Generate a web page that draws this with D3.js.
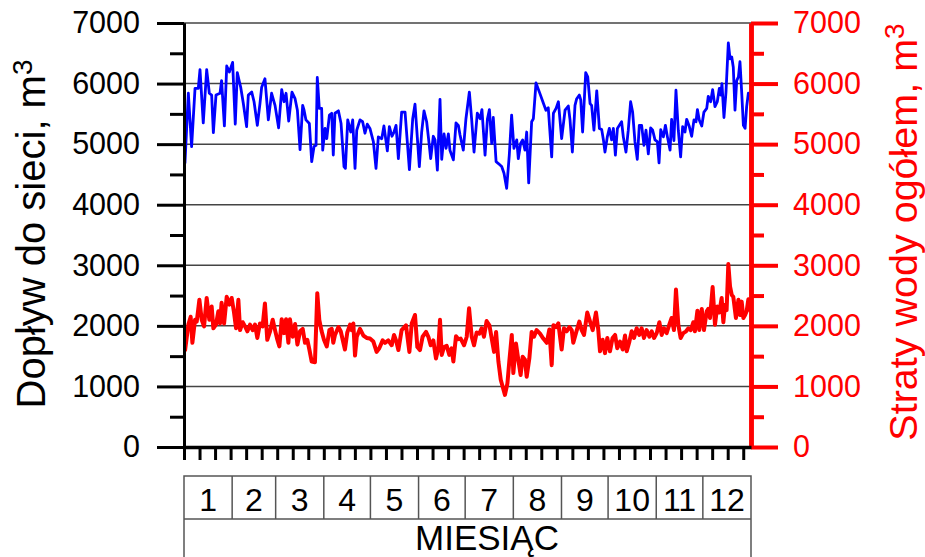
<!DOCTYPE html>
<html>
<head>
<meta charset="utf-8">
<script src="https://cdn.jsdelivr.net/npm/d3@7"></script>
<style>
  html, body { margin: 0; padding: 0; background: #fff; }
  svg { display: block; font-family: "Liberation Sans", Arial, sans-serif; }
</style>
</head>
<body>
<svg id="chart" width="925" height="557"></svg>
<script>
// ---------- DATA ----------
const months = ["1","2","3","4","5","6","7","8","9","10","11","12"];
const monthDays = [31,28,31,30,31,30,31,31,30,31,30,31];
const yTicks = [0,1000,2000,3000,4000,5000,6000,7000];

// Dopływ do sieci (blue) – day of year, m3
const inflowDay = [
  0.6,2.8,4.9,7.1,9.2,10.3,12.4,14.6,16.3,17.8,
  18.9,20.6,23.2,24.2,26,27.5,29.2,31.3,33,34.3,
  36.5,38.2,40.3,41.4,43.6,45.1,47.2,48.9,50,52.1,
  54.3,56.4,58.6,60.9,62.9,64.4,65.7,67.4,69.5,71.5,
  73,74.7,76.4,77.3,78.5,80.7,82.2,83.7,85,85.8,
  87.1,88.6,89.3,90.8,91.9,93.6,95.1,96.1,97.2,99.4,
  101.1,103,103.9,105.4,107.3,108.6,110.1,111.2,113.3,115,
  116.5,118,
  119.7,121.9,123.6,125.1,127.3,128.7,130.9,132.2,133.9,135.2,
  136.5,138,140.1,142.3,145.1,147.2,148.7,151.5,153,154.5,
  156.2,157.3,158.8,160.5,161.6,163.1,164.8,165.9,167.4,168.7,
  170.2,171.2,173.4,175.1,176.6,177.7,179.8,181.5,183.7,185.2,
  186.7,188.8,190.6,191.8,193.8,195.3,196.6,198.1,199.1,200.9,
  202.4,204.5,206,207.7,209.4,210.9,212.4,214.2,215.2,216.7,
  218,219.5,220.6,221.9,223.8,224.9,226.6,229.2,231.3,233,
  234.5,236.7,237.8,239.5,241,
  243.1,245.3,247.4,248.5,250,251.7,252.8,254.5,255.4,256.6,
  258.6,259.9,261.4,262.4,263.9,265.7,267.4,268.9,270,271,
  272.5,273.8,275.3,276.4,277.7,279,280.2,281.7,282.8,284.5,
  286,287.5,288.8,290.3,291.8,293.1,294.6,296.1,297.4,298.9,
  300.4,301.7,303.2,304.7,305.8,306.9,308.6,309.9,311.2,312.9,
  313.9,315.4,316.7,318.2,319.7,321,322.5,323.6,325.3,326.8,
  328.3,329.6,330.5,331.7,333.3,334.7,336.5,337.5,339,340.3,
  341.8,343.3,344.6,345.5,346.3,347.6,348.9,350.4,351.5,352.6,
  353.6,354.7,355.8,356.9,357.9,359,360.1,361.2,362.2,363.3,
  364.8
];
const inflow = [
  4680,5840,4960,5920,5920,6230,5350,6230,5840,5810,
  5190,5810,5840,6050,5300,6290,6190,6350,5330,6180,
  5940,5670,5290,5810,5860,5700,5310,5670,5940,6080,
  5400,5840,5640,5270,5900,5700,5840,5380,5860,5750,
  5560,4910,5640,5560,5400,5340,4710,4960,4980,6100,
  5590,5590,4900,5260,5090,5480,5510,4820,5510,5550,
  5340,4630,4600,5400,5200,5400,4600,5230,5400,5370,
  5180,5330,
  5260,5040,4600,5120,5090,5300,4890,5290,5130,5200,
  5310,4760,5530,5530,4580,5410,5660,4630,5200,5550,
  5370,5120,4760,5130,5070,4570,5740,4750,5170,4930,
  5170,4900,4740,5350,5310,5150,4900,5420,5860,5400,
  4870,5510,5420,5570,4820,5410,5570,5010,5440,4710,
  4680,4630,4520,4270,4820,5480,4930,5070,4760,5010,
  5070,4900,5200,4360,5370,5420,6010,5830,5680,5560,
  5600,4790,5510,5590,5700,
  5090,5560,5630,5400,4870,5640,5750,5810,5730,5200,
  6180,6110,5670,5640,5230,5880,5260,5240,5070,4870,
  5120,5260,5070,5260,4820,5260,5310,5370,5120,4870,
  5230,5700,5530,5040,4750,5310,5310,4980,5230,4840,
  5270,5230,5070,5040,4690,5240,5120,5310,5120,4900,
  5410,5060,5890,5230,4790,5290,5200,5410,5290,5130,
  5400,5370,5570,5400,5300,5530,5590,5790,5700,5900,
  5620,5700,5920,5810,6000,5440,5860,6670,6410,6440,
  6270,5560,6050,6110,6360,5860,5310,5260,5620,5840,
  5800
];

// Straty wody ogółem (red) – day of year, m3
const lossDay = [
  0.6,2.8,4.3,5.4,7.1,8.2,9.9,11.4,12.9,14.6,
  16.3,17.8,18.9,20.6,22.1,23.2,24.2,25.8,27.5,29.2,
  30.7,32.2,33.5,35,36.1,37.8,39.3,40.8,42.5,44.2,
  45.7,47.2,48.9,50.6,52.1,53.6,55.4,57.1,58.6,60.1,
  61.4,62.9,64.4,65.7,67.2,68.2,70,71.5,73,74.7,
  76.4,77.9,79.4,80.7,82.2,84.3,85.8,87.1,88.6,90.1,
  91.9,93.6,95.1,96.1,97.2,99.4,100.9,102.6,103.6,105.1,
  106.9,107.9,109,110.1,111.2,113.3,115.5,117.6,
  119.7,121.9,124,125.7,127.9,129.4,131.5,133.7,135.2,136.5,
  138,140.1,142.9,145.1,146.6,148.7,150.2,151.9,153.6,155.8,
  157.3,158.8,160.5,162.2,163.7,164.8,165.9,167.4,169.1,170.8,
  172.3,173.4,175.1,176.6,178.1,180.3,182,183.5,185.2,186.7,
  188.4,190.1,191.6,193.1,194.8,196.6,198.1,199.6,200.9,202.4,
  203.9,205.1,206.6,208.2,209.4,211,212,213.7,215.2,216.7,
  218,219.5,220.6,222.3,223.8,225.3,227,229.2,231.3,233.5,
  235.2,236.7,237.8,239.5,241,
  243.1,244.6,246.3,248.1,249.6,250.6,252.3,254.5,256,257.5,
  259.6,261.4,263.1,265.2,266.7,267.8,269.5,271,272.5,274.2,
  275.9,277.5,278.9,280.7,282.4,283.9,285,286.7,288.2,289.7,
  291.4,293.1,294.6,296.1,297.8,299.6,301.1,302.6,304.3,306,
  307.5,309,310.7,312.4,313.9,315.4,316.7,318.2,319.7,321.4,
  323.2,324.7,326.2,327.9,328.9,330.5,331.7,333.3,334.7,336.5,
  337.5,338.6,340.3,341.8,343.3,344.6,346.1,347.2,348.3,349.3,
  350.4,351.5,352.6,353.6,355.3,356.9,357.9,359,360.1,361.2,
  362.2,363.3,364.8
];
const loss = [
  1580,2020,2150,1720,2100,2070,2430,2100,1990,2460,
  2100,2320,1960,2020,2240,2040,2380,2040,2480,2350,
  2460,2220,1960,2430,1930,2060,1990,1910,2020,1930,
  2020,1800,2040,1990,2370,1770,1910,2100,1930,1770,
  1660,2110,1880,2110,1720,2110,1820,2030,1690,1910,
  1950,1720,1770,1610,1410,1400,2540,2100,1910,1770,
  1660,1930,1950,1720,1850,1980,1910,1720,1610,1890,
  2020,1930,2040,1510,1820,1950,1840,1800,
  1790,1740,1570,1630,1760,1720,1760,1680,1850,1760,
  1600,1930,2010,1570,2040,2180,1650,1600,1820,1900,
  1820,1680,1760,1460,1630,2100,1520,1650,1670,1520,
  1630,1410,1830,1780,1790,1680,1820,2290,1820,1680,
  1890,1870,1960,1820,2080,2010,1790,1570,1900,1410,
  1110,1000,860,1050,1410,1850,1220,1710,1440,1190,
  1490,1440,1160,1460,1900,1820,1930,1870,1790,1720,
  1940,1350,2010,1980,2040,
  1610,1960,1910,1980,1930,1720,1880,2070,1930,1850,
  2220,2070,1930,2220,1930,1580,1770,1550,1800,1580,
  1800,1850,1630,1740,1610,1840,1580,1740,1910,1800,
  1960,1850,1960,1800,1930,1820,1910,1800,1880,2060,
  1850,1960,1880,2020,2130,1930,2600,2020,1800,1880,
  1910,1960,1930,2060,1910,2250,1930,2280,1930,2240,
  2280,2130,2640,2020,2320,2220,2460,2060,2350,2260,
  3020,2650,2510,2480,2130,2430,2180,2400,2130,2180,
  2240,2440,2240
];

// ---------- CHART ----------
(function () {
const svg = d3.select("#chart");
const FONT = '"Liberation Sans", Arial, sans-serif';
const pLeft = 184, pRight = 751, pTop = 23, pBottom = 447;

const x = d3.scaleLinear().domain([0, 365]).range([pLeft, pRight]);
const y = d3.scaleLinear().domain([0, 7000]).range([pBottom, pTop]);
const yR = d3.scaleLinear().domain([0, 7000]).range([pBottom, pTop]);

// gridlines
svg.append("g").selectAll("line")
  .data(yTicks.filter(d => d > 0))
  .join("line")
  .attr("x1", pLeft).attr("x2", pRight)
  .attr("y1", d => y(d)).attr("y2", d => y(d))
  .attr("stroke", "#444").attr("stroke-width", 1.5);

// series
const inflowData = inflowDay.map((d, i) => [d, inflow[i]]);
const lossData = lossDay.map((d, i) => [d, loss[i]]);

svg.append("path")
  .datum(inflowData)
  .attr("fill", "none").attr("stroke", "#0000ff").attr("stroke-width", 2.8)
  .attr("stroke-linejoin", "round")
  .attr("d", d3.line().x(d => x(d[0])).y(d => y(d[1])));

svg.append("path")
  .datum(lossData)
  .attr("fill", "none").attr("stroke", "#ff0000").attr("stroke-width", 4)
  .attr("stroke-linejoin", "round")
  .attr("d", d3.line().x(d => x(d[0])).y(d => yR(d[1])));

const minorTicks = d3.range(500, 7000, 1000);

// left axis
const gL = svg.append("g").attr("transform", `translate(${pLeft},0)`);
gL.call(d3.axisLeft(y).tickValues(yTicks).tickSize(27).tickSizeOuter(0).tickPadding(17).tickFormat(d3.format("d")));
gL.append("g").call(d3.axisLeft(y).tickValues(minorTicks).tickSize(14).tickSizeOuter(0).tickFormat(""));
gL.selectAll("path.domain").attr("stroke", "#000").attr("stroke-width", 3);
gL.selectAll(".tick line").attr("stroke", "#000").attr("stroke-width", 3);
gL.selectAll(".tick text").attr("fill", "#000").style("font-family", FONT).style("font-size", "30.5px");

// right axis
const gR = svg.append("g").attr("transform", `translate(${pRight},0)`);
gR.call(d3.axisRight(yR).tickValues(yTicks).tickSize(27).tickSizeOuter(0).tickPadding(15).tickFormat(d3.format("d")));
gR.append("g").call(d3.axisRight(yR).tickValues(minorTicks).tickSize(13).tickSizeOuter(0).tickFormat(""));
gR.selectAll("path.domain").attr("stroke", "#ff0000").attr("stroke-width", 4.5);
gR.selectAll(".tick line").attr("stroke", "#ff0000").attr("stroke-width", 4);
gR.selectAll(".tick text").attr("fill", "#ff0000").style("font-family", FONT).style("font-size", "30.5px");

// bottom axis (ticks every 10 days)
const gB = svg.append("g").attr("transform", `translate(0,${pBottom})`);
gB.call(d3.axisBottom(x).tickValues(d3.range(0, 361, 10)).tickSize(13).tickSizeOuter(0).tickFormat(""));
gB.selectAll("path.domain").attr("stroke", "#000").attr("stroke-width", 3.5);
gB.selectAll(".tick line").attr("stroke", "#000").attr("stroke-width", 3);

// month table
const cum = [0];
monthDays.forEach(d => cum.push(cum[cum.length - 1] + d));
const rowTop = 476, rowMid = 519, rowBot = 560;
const tbl = svg.append("g");
tbl.append("rect").attr("x", x(0)).attr("y", rowTop)
  .attr("width", x(365) - x(0)).attr("height", rowBot - rowTop)
  .attr("fill", "none").attr("stroke", "#555").attr("stroke-width", 1.5);
tbl.append("line").attr("x1", x(0)).attr("x2", x(365)).attr("y1", rowMid).attr("y2", rowMid)
  .attr("stroke", "#555").attr("stroke-width", 1.5);
tbl.selectAll("line.div").data(cum.slice(1, 12)).join("line").attr("class", "div")
  .attr("x1", d => x(d)).attr("x2", d => x(d)).attr("y1", rowTop).attr("y2", rowMid)
  .attr("stroke", "#555").attr("stroke-width", 1.5);
tbl.selectAll("text.m").data(months).join("text").attr("class", "m")
  .attr("x", (d, i) => x((cum[i] + cum[i + 1]) / 2))
  .attr("y", 511)
  .attr("text-anchor", "middle")
  .style("font-family", FONT).style("font-size", "32px").attr("fill", "#000")
  .text(d => d);
tbl.append("text").attr("x", 487).attr("y", 550).attr("text-anchor", "middle")
  .style("font-family", FONT).style("font-size", "35px").attr("fill", "#000")
  .text("MIESIĄC");

// axis titles
const tL = svg.append("text")
  .attr("transform", "translate(45,234) rotate(-90)")
  .attr("text-anchor", "middle")
  .style("font-family", FONT).style("font-size", "40px").attr("fill", "#000");
tL.append("tspan").text("Dopływ do sieci, m");
tL.append("tspan").attr("dy", "-0.45em").style("font-size", "28px").text("3");

const tR = svg.append("text")
  .attr("transform", "translate(917,232) rotate(-90)")
  .attr("text-anchor", "middle")
  .style("font-family", FONT).style("font-size", "39.5px").attr("fill", "#ff0000");
tR.append("tspan").text("Straty wody ogółem, m");
tR.append("tspan").attr("dy", "-0.45em").style("font-size", "28px").text("3");
})();
</script>
</body>
</html>
